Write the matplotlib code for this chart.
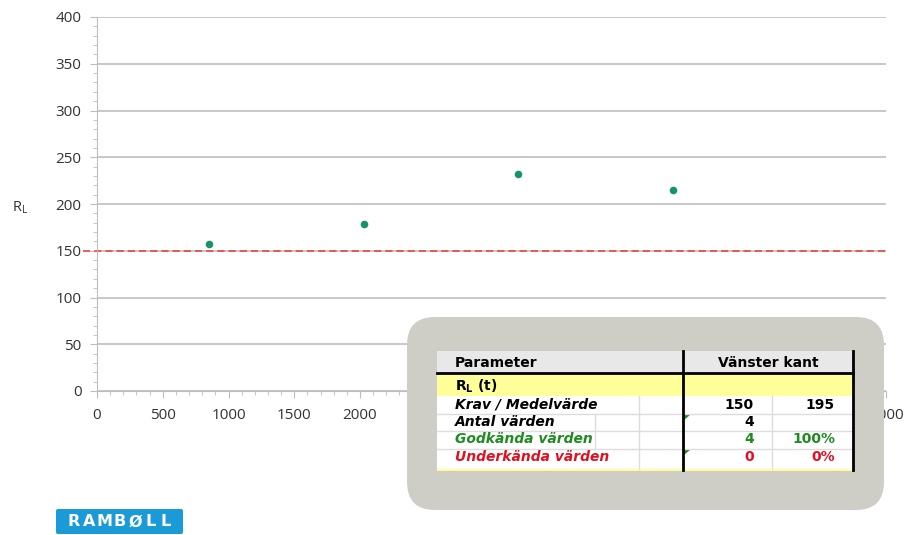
import matplotlib
matplotlib.use("Agg")
import matplotlib.pyplot as plt
from matplotlib.patches import FancyBboxPatch, Rectangle, Polygon
from matplotlib.ticker import MultipleLocator

# measured values
x_pos = [855, 2030, 3205, 4380]
rl_values = [157, 179, 232, 215]
limit = 150

x_ticks = list(range(0, 6001, 500))
y_ticks = list(range(0, 401, 50))

header = ["Parameter", "Vänster kant"]
group_label = r"$\mathbf{R_L}$ (t)"
row_labels = ["Krav / Medelvärde", "Antal värden", "Godkända värden", "Underkända värden"]
col1_values = ["150", "4", "4", "0"]
col2_values = ["195", "", "100%", "0%"]
row_colors = ["black", "black", "#1e8c1e", "#e01020"]

fig = plt.figure(figsize=(9.12, 5.35), dpi=100)
ax = fig.add_axes([97 / 912, 1 - 391 / 535, (886 - 97) / 912, (391 - 17) / 535])

ax.scatter(x_pos, rl_values, s=30, color="#17936b", zorder=3, linewidths=0)
ax.axhline(limit, xmin=-0.018, xmax=1, color="#e8504f", lw=1.3,
           dashes=(4, 2.2), clip_on=False, zorder=2)

ax.set_xlim(0, 6000)
ax.set_ylim(0, 400)
ax.set_xticks(x_ticks)
ax.set_yticks(y_ticks)
ax.xaxis.set_minor_locator(MultipleLocator(100))
ax.yaxis.set_minor_locator(MultipleLocator(10))
ax.grid(axis="y", which="major", color="#c8c8c8", lw=1.4)
ax.set_axisbelow(True)
for s in ["top", "right"]:
    ax.spines[s].set_visible(False)
for s in ["left", "bottom"]:
    ax.spines[s].set_color("#bdbdbd")
ax.tick_params(which="major", length=5, color="#bdbdbd", labelsize=11,
               labelcolor="#333333")
ax.tick_params(axis="y", pad=6)
ax.tick_params(axis="x", pad=7)
ax.tick_params(which="minor", length=3, color="#bdbdbd")
for lab in ax.get_xticklabels() + ax.get_yticklabels():
    lab.set_fontfamily("Open Sans")
# labels fully hidden behind the summary box
for t, lab in zip(x_ticks, ax.get_xticklabels()):
    if 2500 <= t <= 5500:
        lab.set_visible(False)
ax.set_ylabel(r"R$_\mathregular{L}$", rotation=0, fontsize=10.5,
              color="#333333", family="Open Sans", ha="center", va="center")
ax.yaxis.set_label_coords(-0.097, 0.49)

# overlay in pixel coordinates
ov = fig.add_axes([0, 0, 1, 1], zorder=5)
ov.set_xlim(0, 912)
ov.set_ylim(535, 0)
ov.axis("off")

ov.add_patch(FancyBboxPatch((407 + 28, 317 + 28), 477 - 56, 193 - 56,
                            boxstyle="round,pad=28", fc="#cfcec6", ec="none"))

tl, tr = 437, 853
c_mid, c_val = 683, 772
ov.add_patch(Rectangle((tl, 351), tr - tl, 22, fc="#e8e8e8", ec="none"))
ov.add_patch(Rectangle((tl, 373), tr - tl, 23, fc="#ffff99", ec="none"))
ov.add_patch(Rectangle((tl, 396), tr - tl, 73, fc="white", ec="none"))
ov.add_patch(Rectangle((tl, 469), tr - tl, 2, fc="#ffff99", ec="none"))

row_tops = [396, 414, 431, 449]
for yt in row_tops[1:]:
    ov.plot([tl, tr], [yt, yt], color="#dcdcdc", lw=1)
ov.plot([639, 639], [396, 469], color="#dcdcdc", lw=1)
ov.plot([595, 595], [414, 449], color="#dcdcdc", lw=1)
ov.plot([c_val, c_val], [396, 469], color="#dcdcdc", lw=1)
ov.plot([tl, tr], [373, 373], color="black", lw=2)
ov.plot([c_mid, c_mid], [351, 470], color="black", lw=2)
ov.plot([tr, tr], [351, 470], color="black", lw=2)

tfont = dict(family="DejaVu Sans", fontsize=10, fontweight="bold")
ov.text(455, 363, header[0], va="center", ha="left", **tfont)
ov.text(768, 363, header[1], va="center", ha="center", **tfont)
ov.text(455, 386, group_label, va="center", ha="left", **tfont)

row_centers = [405, 422, 439, 457]
for i, lab in enumerate(row_labels):
    yc = row_centers[i]
    ov.text(455, yc, lab, va="center", ha="left", style="italic",
            color=row_colors[i], **tfont)
    ov.text(754, yc, col1_values[i], va="center", ha="right",
            color=row_colors[i], **tfont)
    ov.text(835, yc, col2_values[i], va="center", ha="right",
            color=row_colors[i], **tfont)
    if i in (1, 3):
        ov.add_patch(Polygon([[684, row_tops[i] + 1], [690, row_tops[i] + 1],
                              [684, row_tops[i] + 6]], fc="#1e8c1e", ec="none"))

# logo
ov.add_patch(FancyBboxPatch((58, 511), 123, 21, boxstyle="round,pad=2",
                            fc="#1a9ad6", ec="none"))
for k, ch in enumerate("RAMBØLL"):
    ov.text(74 + k * 15.3, 522, ch, color="white", fontsize=11.5,
            fontweight="bold", family="DejaVu Sans", ha="center", va="center")

fig.savefig("out.png", dpi=100)
